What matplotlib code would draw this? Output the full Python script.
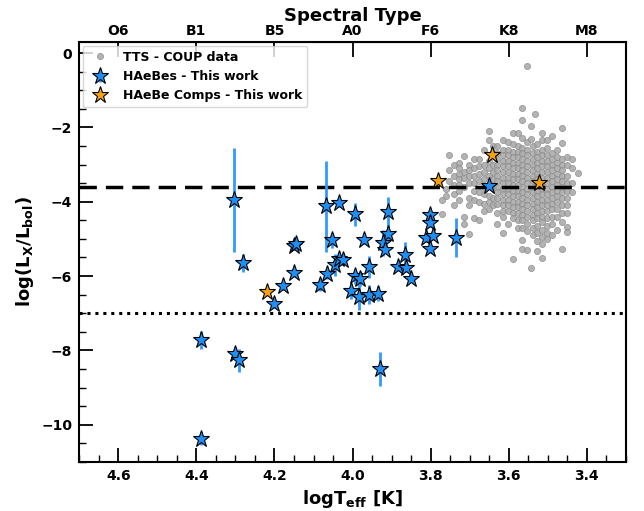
import matplotlib
matplotlib.use("Agg")
import matplotlib.pyplot as plt
import numpy as np
from matplotlib.ticker import MultipleLocator

# ---------------- data ----------------
# TTS - COUP data (grey), by logTeff column
tts_cols = {
    3.772: [-3.94, -4.34],
    3.760: [-3.85, -3.65],
    3.752: [-2.73, -3.45, -3.15],
    3.740: [-3.0, -3.3, -3.55, -3.8, -4.1],
    3.727: [-2.95, -3.1, -3.25, -3.4, -3.55, -3.7, -3.95],
    3.715: [-2.77, -3.2, -3.35, -3.6, -4.61, -4.4],
    3.702: [-3.0, -3.15, -3.3, -3.5, -3.9, -4.1, -4.86],
    3.689: [-2.84, -3.1, -3.3, -3.5, -3.7, -3.95, -4.43],
    3.677: [-2.84, -3.05, -3.25, -3.45, -3.75, -4.0, -4.48],
    3.664: [-2.6, -3.0, -3.2, -3.4, -3.6, -3.8, -4.05, -4.25],
    3.651: [-2.09, -2.35, -2.9, -3.1, -3.3, -3.85, -4.0, -4.2],
    3.641: [-2.5, -2.7, -3.0, -3.2, -3.4, -3.6, -3.9, -4.1],
    3.630: [-2.51, -2.7, -2.85, -3.0, -3.15, -3.3, -3.45, -3.6, -3.75, -3.9, -4.05, -4.3, -4.6],
    3.615: [-2.33, -2.6, -2.75, -2.9, -3.05, -3.2, -3.35, -3.5, -3.65, -3.8, -3.95, -4.1, -4.25, -4.4, -4.83],
    3.603: [-2.4, -2.6, -2.75, -2.9, -3.05, -3.2, -3.35, -3.5, -3.65, -3.8, -3.95, -4.1, -4.25, -4.59],
    3.590: [-2.15, -2.45, -2.65, -2.8, -2.95, -3.1, -3.25, -3.4, -3.55, -3.7, -3.85, -4.0, -4.15, -4.3, -4.45, -5.55],
    3.577: [-2.15, -2.5, -2.65, -2.8, -2.95, -3.1, -3.25, -3.4, -3.55, -3.7, -3.85, -4.0, -4.15, -4.3, -4.5, -4.7],
    3.565: [-1.47, -1.81, -2.28, -2.55, -2.7, -2.85, -3.0, -3.15, -3.3, -3.45, -3.6, -3.75, -3.9, -4.05, -4.2, -4.35, -4.5, -4.7, -5.04, -5.26],
    3.553: [-0.34, -2.4, -2.6, -2.75, -2.9, -3.05, -3.2, -3.35, -3.5, -3.65, -3.8, -3.95, -4.1, -4.25, -4.4, -4.6, -4.8, -5.3],
    3.544: [-1.96, -2.3, -5.78],
    3.539: [-2.5, -2.7, -2.85, -3.0, -3.15, -3.3, -3.45, -3.6, -3.75, -3.9, -4.05, -4.2, -4.35, -4.5, -4.7, -4.9],
    3.533: [-1.63],
    3.527: [-2.45, -2.65, -2.8, -2.95, -3.1, -3.25, -3.4, -3.55, -3.7, -3.85, -4.0, -4.15, -4.3, -4.45, -4.65, -4.85, -5.05, -5.33],
    3.514: [-2.16, -2.33, -2.6, -2.75, -2.9, -3.05, -3.2, -3.35, -3.5, -3.65, -3.8, -3.95, -4.1, -4.25, -4.4, -4.55, -4.75, -4.95, -5.15, -5.52],
    3.501: [-2.33, -2.55, -2.75, -2.9, -3.05, -3.2, -3.35, -3.5, -3.65, -3.8, -3.95, -4.1, -4.25, -4.45, -4.65, -4.85, -5.0],
    3.489: [-2.24, -2.7, -2.85, -3.0, -3.15, -3.3, -3.45, -3.6, -3.75, -3.9, -4.05, -4.2, -4.4, -4.6, -4.9],
    3.476: [-2.6, -2.8, -2.95, -3.1, -3.25, -3.4, -3.55, -3.7, -3.85, -4.0, -4.2, -4.4, -4.75],
    3.463: [-2.01, -2.43, -2.85, -3.0, -3.15, -3.3, -3.45, -3.6, -3.75, -3.9, -4.1, -4.3, -4.55, -5.26],
    3.451: [-2.79, -3.0, -3.3, -3.5, -3.7, -3.9, -4.1, -4.3, -4.68, -4.82],
    3.438: [-2.84, -3.1, -3.5, -3.75],
    3.423: [-3.23],
}

# HAeBes - this work
hae_teff = [4.304, 4.281, 4.200, 4.179, 4.149, 4.149, 4.144, 4.084, 4.067, 4.054,
            4.035, 3.995, 3.972, 4.065, 4.046, 4.034, 4.025, 3.995, 3.980, 3.959,
            4.004, 3.983, 3.958, 3.934, 3.909, 3.909, 3.922, 3.916, 3.867, 3.884,
            3.863, 3.850, 3.803, 3.803, 3.812, 3.795, 3.802, 3.736, 3.651, 4.389,
            4.302, 4.290, 4.389, 3.931]
hae_lx = [-3.96, -5.65, -6.75, -6.28, -5.92, -5.20, -5.13, -6.25, -4.12, -5.04,
          -4.03, -4.34, -5.04, -5.94, -5.71, -5.53, -5.56, -6.01, -6.07, -5.76,
          -6.41, -6.55, -6.50, -6.48, -4.28, -4.86, -5.11, -5.29, -5.42, -5.76,
          -5.78, -6.07, -4.37, -4.57, -4.97, -4.91, -5.27, -4.97, -3.57, -7.72,
          -8.09, -8.27, -10.37, -8.50]
hae_err = [1.40, 0.25, 0.10, 0.10, 0.10, 0.10, 0.10, 0.15, 1.22, 0.20,
           0.10, 0.31, 0.10, 0.15, 0.30, 0.10, 0.10, 0.20, 0.20, 0.30,
           0.20, 0.35, 0.25, 0.20, 0.40, 0.20, 0.35, 0.10, 0.35, 0.10,
           0.10, 0.10, 0.10, 0.10, 0.10, 0.10, 0.10, 0.53, 0.10, 0.24,
           0.10, 0.32, 0.18, 0.47]

# HAeBe companions - this work
comp_teff = [4.219, 3.782, 3.643, 3.522]
comp_lx = [-6.43, -3.45, -2.75, -3.49]

# reference lines
dash_level = -3.6
dot_level = -7.0

# spectral types for the top axis
spt_pos = [4.6, 4.4, 4.2, 4.0, 3.8, 3.6, 3.4]
spt_lab = ["O6", "B1", "B5", "A0", "F6", "K8", "M8"]

# ---------------- plot ----------------
plt.rcParams['font.family'] = ['DejaVu Sans']
plt.rcParams['font.weight'] = 'bold'

fig = plt.figure(figsize=(6.44, 5.11), dpi=100)
ax = fig.add_axes([0.123, 0.096, 0.849, 0.822])

tts_x = [x for x, ys in tts_cols.items() for _ in ys]
tts_y = [y for ys in tts_cols.values() for y in ys]
h_tts, = ax.plot(tts_x, tts_y, 'o', ms=4.4, color='#a6a6a6', mec='#8f8f8f', mew=0.6,
                 alpha=0.85, ls='none', label='TTS - COUP data', zorder=2)

ax.axhline(dash_level, color='black', lw=2.5, ls=(0, (5, 2.6)), zorder=3)
ax.axhline(dot_level, color='black', lw=2.2, ls=(0, (1, 1.6)), zorder=3)

h_hae = ax.errorbar(hae_teff, hae_lx, yerr=hae_err, fmt='*', ms=12.5, color='#1e8ff5',
                    mec='black', mew=0.8, ecolor='#3399ff', elinewidth=2, capsize=0,
                    label='HAeBes - This work', zorder=4)
h_comp, = ax.plot(comp_teff, comp_lx, '*', ms=12.5, color='#f5a00f', mec='black', mew=0.8,
                  ls='none', label='HAeBe Comps - This work', zorder=5)

ax.set_xlim(4.7, 3.3)
ax.set_ylim(-11, 0.3)

ax.xaxis.set_major_locator(MultipleLocator(0.2))
ax.xaxis.set_minor_locator(MultipleLocator(0.05))
ax.yaxis.set_major_locator(MultipleLocator(2))
ax.yaxis.set_minor_locator(MultipleLocator(0.5))
ax.tick_params(axis='both', which='major', direction='in', length=10, width=1.3,
               labelsize=10, top=False, right=False, pad=5)
ax.tick_params(axis='both', which='minor', direction='in', length=5, width=1.0,
               top=False, right=False)
for lab in ax.get_xticklabels() + ax.get_yticklabels():
    lab.set_fontweight('bold')
for s in ax.spines.values():
    s.set_linewidth(1.5)

ax.set_xlabel(r'$\mathbf{logT_{eff}}$ [K]', fontsize=13, fontweight='bold')
ax.set_ylabel(r'$\mathbf{log(L_X/L_{bol})}$', fontsize=13, fontweight='bold')

top = ax.secondary_xaxis('top')
top.set_xticks(spt_pos)
top.set_xticklabels(spt_lab, fontweight='bold', fontsize=10)
top.tick_params(direction='in', length=11, width=1.3, pad=3)
top.xaxis.set_minor_locator(plt.NullLocator())
top.set_xlabel('Spectral Type', fontsize=13, fontweight='bold', labelpad=2)

leg = ax.legend([h_tts, h_hae, h_comp],
                ['TTS - COUP data', 'HAeBes - This work', 'HAeBe Comps - This work'],
                loc='upper left', prop={'weight': 'bold', 'size': 9},
                framealpha=0.8, borderaxespad=0.3, handletextpad=0.8,
                borderpad=0.4, labelspacing=0.5)

fig.savefig('out.png', dpi=100)
